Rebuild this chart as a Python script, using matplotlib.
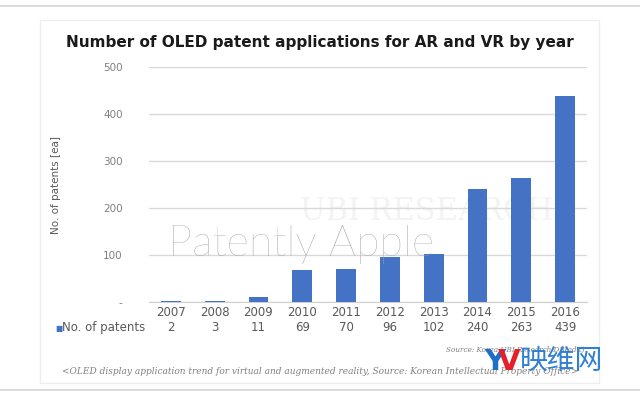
import matplotlib.pyplot as plt
from matplotlib.patches import Rectangle
from matplotlib.lines import Line2D

years = ['2007', '2008', '2009', '2010', '2011', '2012', '2013', '2014', '2015', '2016']
patents = [2, 3, 11, 69, 70, 96, 102, 240, 263, 439]
yticks = [0, 100, 200, 300, 400, 500]
ytick_labels = ['-', '100', '200', '300', '400', '500']

W, H = 640, 395
fig = plt.figure(figsize=(6.4, 3.95), dpi=100)
fig.patch.set_facecolor('white')

def fx(px):
    return px / W

def fy(py):
    return 1 - py / H

# frame lines and card
fig.add_artist(Line2D([0, 1], [fy(6), fy(6)], color='#d4d4d4', lw=1.2))
fig.add_artist(Line2D([0, 1], [fy(390), fy(390)], color='#d4d4d4', lw=1.2))
fig.add_artist(Rectangle((fx(40), fy(383)), fx(559), 363 / H, fill=False,
                         ec='#eeeeee', lw=1.0))

ax = fig.add_axes([fx(149), fy(302), fx(587 - 149), (302 - 67) / H])
ax.patch.set_visible(False)
x = range(len(years))
ax.bar(x, patents, width=0.45, color='#4472c4', zorder=3)
ax.set_xlim(-0.5, len(years) - 0.5)
ax.set_ylim(0, 500)
ax.set_yticks(yticks)
ax.set_yticklabels(ytick_labels, color='#7f7f7f', fontsize=7.5)
ax.set_xticks([])
ax.tick_params(axis='y', length=0, pad=19)
ax.grid(axis='y', color='#d9d9d9', lw=1, zorder=0)
for s in ['top', 'right', 'left']:
    ax.spines[s].set_visible(False)
ax.spines['bottom'].set_color('#d0d0d0')
ax.set_ylabel('No. of patents [ea]', color='#595959', fontsize=7.5, labelpad=30)

# data table under the bars
tr = ax.get_xaxis_transform()
for i, (yr, v) in enumerate(zip(years, patents)):
    ax.text(i, -0.043, yr, transform=tr, ha='center', va='center',
            color='#595959', fontsize=8.5)
    ax.text(i, -0.11, str(v), transform=tr, ha='center', va='center',
            color='#595959', fontsize=8.5)
fig.text(fx(55), fy(328), '\u25a0', color='#4472c4', fontsize=5.5, ha='left', va='center')
fig.text(fx(62), fy(328), 'No. of patents', color='#595959', fontsize=8.5,
         ha='left', va='center')

fig.text(fx(320), fy(43), 'Number of OLED patent applications for AR and VR by year',
         ha='center', va='center', fontsize=11, fontweight='bold', color='#1a1a1a')

# watermarks
fig.text(fx(300), fy(212), 'UBI RESEARCH', ha='left', va='center', fontsize=22,
         family='DejaVu Serif', color='#f3f3f3', zorder=-1)
fig.text(fx(168), fy(245), 'Patently Apple', ha='left', va='center', fontsize=31,
         family='Lato', fontweight='light', color='#a3a3a3', zorder=5)

fig.text(fx(585), fy(350), 'Source: Korea UBI Research DB(edit)', ha='right', va='center',
         fontsize=5.2, style='italic', family='DejaVu Serif', color='#7f7f7f')
fig.text(fx(62), fy(371),
         '<OLED display application trend for virtual and augmented reality, '
         'Source: Korean Intellectual Property Office>',
         ha='left', va='center', fontsize=6.5, style='italic', family='DejaVu Serif',
         color='#808080')

# site logo
fig.text(fx(484), fy(362), 'Y', ha='left', va='center', fontsize=21, fontweight='bold',
         color='#1f6fc8')
fig.text(fx(498), fy(362), 'V', ha='left', va='center', fontsize=21, fontweight='bold',
         color='#e4212b')
fig.text(fx(520), fy(361), '映维网', ha='left', va='center', fontsize=20,
         family=['Noto Sans CJK SC', 'DejaVu Sans'], color='#2f7fd2')

fig.savefig('out.png', dpi=100)
